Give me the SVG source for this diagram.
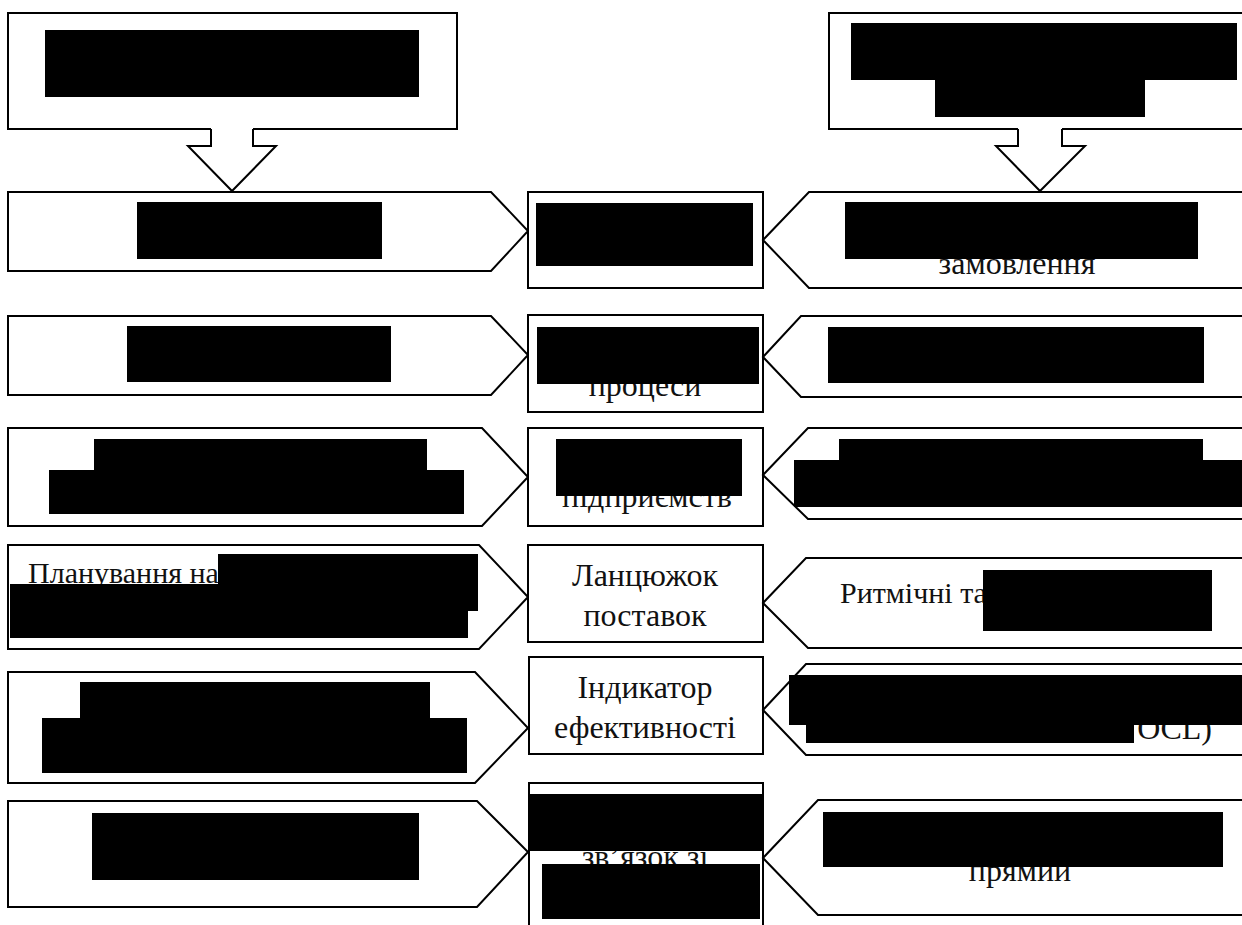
<svg xmlns="http://www.w3.org/2000/svg" width="1242" height="925" viewBox="0 0 1242 925">
  <style>
    .box { fill: #fff; stroke: #000; stroke-width: 2; stroke-linejoin: miter; }
    .mask { fill: #000; stroke: none; }
    .lbl { font-family: 'Liberation Serif', 'DejaVu Serif', serif; font-size: 32px; fill: #111; }
    .sm { font-size: 30px; }
    .mid { text-anchor: middle; }
    .end { text-anchor: end; }
    .fillonly { fill: #fff; stroke: none; }
    .edge { fill: none; stroke: #000; stroke-width: 2; }
  </style>
  <rect width="1242" height="925" fill="#fff"/>

  <!-- top source boxes -->
  <g id="top-left">
    <rect class="box" x="8" y="13" width="449" height="116"/>
    <rect class="mask" x="45" y="30" width="374" height="67"/>
  </g>
  <g id="top-right">
    <rect class="box" x="829" y="13" width="430" height="116"/>
    <rect class="mask" x="851" y="23" width="386" height="57"/>
    <rect class="mask" x="935" y="79" width="210" height="38"/>
  </g>

  <!-- block arrows from the top boxes -->
  <g id="connectors">
    <path class="fillonly" d="M211,126 V146 H188 L232,191 L276,146 H253 V126 Z"/>
    <path class="edge" d="M211,129 V146 H188 L232,191 L276,146 H253 V129"/>
    <path class="fillonly" d="M1018,126 V146 H996 L1040,191 L1085,146 H1062 V126 Z"/>
    <path class="edge" d="M1018,129 V146 H996 L1040,191 L1085,146 H1062 V129"/>
  </g>

  <!-- left column: pentagons pointing right -->
  <g id="left-1">
    <polygon class="box" points="8,192 491,192 528,231 491,271 8,271"/>
    <rect class="mask" x="137" y="202" width="245" height="57"/>
  </g>
  <g id="left-2">
    <polygon class="box" points="8,316 491,316 528,355 491,395 8,395"/>
    <rect class="mask" x="127" y="326" width="264" height="56"/>
  </g>
  <g id="left-3">
    <polygon class="box" points="8,428 482,428 528,477 482,526 8,526"/>
    <rect class="mask" x="94" y="439" width="333" height="32"/>
    <rect class="mask" x="49" y="470" width="415" height="44"/>
  </g>
  <g id="left-4">
    <polygon class="box" points="8,545 479,545 528,597 479,649 8,649"/>
    <text class="lbl sm" x="28" y="583">Планування на</text>
    <rect class="mask" x="218" y="554" width="260" height="57"/>
    <rect class="mask" x="10" y="584" width="458" height="54"/>
  </g>
  <g id="left-5">
    <polygon class="box" points="8,672 475,672 528,728 475,783 8,783"/>
    <rect class="mask" x="80" y="682" width="350" height="37"/>
    <rect class="mask" x="42" y="718" width="425" height="55"/>
  </g>
  <g id="left-6">
    <polygon class="box" points="8,801 477,801 528,852 477,907 8,907"/>
    <rect class="mask" x="92" y="813" width="327" height="67"/>
  </g>

  <!-- centre column -->
  <g id="centre-1">
    <rect class="box" x="528" y="192" width="235" height="96"/>
    <rect class="mask" x="536" y="203" width="217" height="63"/>
  </g>
  <g id="centre-2">
    <rect class="box" x="528" y="315" width="235" height="97"/>
    <text class="lbl mid" x="645" y="396">процеси</text>
    <rect class="mask" x="537" y="327" width="222" height="57"/>
  </g>
  <g id="centre-3">
    <rect class="box" x="528" y="428" width="235" height="98"/>
    <text class="lbl mid" x="647" y="507">підприємств</text>
    <rect class="mask" x="556" y="439" width="186" height="57"/>
  </g>
  <g id="centre-4">
    <rect class="box" x="528" y="545" width="235" height="97"/>
    <text class="lbl mid" x="645" y="586">Ланцюжок</text>
    <text class="lbl mid" x="645" y="626">поставок</text>
  </g>
  <g id="centre-5">
    <rect class="box" x="529" y="657" width="234" height="97"/>
    <text class="lbl mid" x="645" y="698">Індикатор</text>
    <text class="lbl mid" x="645" y="738">ефективності</text>
  </g>
  <g id="centre-6">
    <rect class="box" x="529" y="783" width="234" height="160"/>
    <text class="lbl mid" x="645" y="867">зв’язок зі</text>
    <rect class="mask" x="529" y="794" width="233" height="57"/>
    <rect class="mask" x="542" y="864" width="218" height="55"/>
  </g>

  <!-- right column: pentagons pointing left -->
  <g id="right-1">
    <polygon class="box" points="1260,192 809,192 763,240 809,288 1260,288"/>
    <text class="lbl mid" x="1017" y="274">замовлення</text>
    <rect class="mask" x="845" y="202" width="353" height="57"/>
  </g>
  <g id="right-2">
    <polygon class="box" points="1260,316 801,316 763,357 801,397 1260,397"/>
    <rect class="mask" x="828" y="327" width="376" height="56"/>
  </g>
  <g id="right-3">
    <polygon class="box" points="1260,428 808,428 763,475 808,519 1260,519"/>
    <rect class="mask" x="839" y="439" width="364" height="22"/>
    <rect class="mask" x="794" y="460" width="448" height="47"/>
  </g>
  <g id="right-4">
    <polygon class="box" points="1260,558 806,558 763,603 808,648 1260,648"/>
    <text class="lbl sm" x="840" y="603">Ритмічні та</text>
    <rect class="mask" x="983" y="570" width="229" height="61"/>
  </g>
  <g id="right-5">
    <polygon class="box" points="1260,664 806,664 763,710 806,755 1260,755"/>
    <text class="lbl end" x="1212" y="739">OCL)</text>
    <rect class="mask" x="789" y="675" width="453" height="50"/>
    <rect class="mask" x="806" y="724" width="328" height="19"/>
  </g>
  <g id="right-6">
    <polygon class="box" points="1260,800 818,800 763,858 818,915 1260,915"/>
    <text class="lbl mid" x="1020" y="881">прямий</text>
    <rect class="mask" x="823" y="812" width="400" height="55"/>
  </g>
</svg>
